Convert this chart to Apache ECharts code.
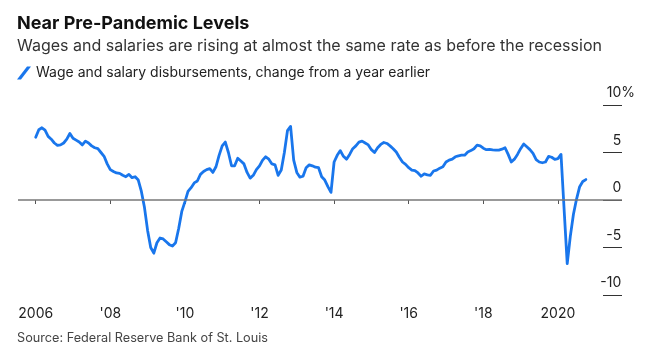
<!DOCTYPE html>
<html>
<head>
<meta charset="utf-8">
<script src="https://cdn.jsdelivr.net/npm/echarts@6/dist/echarts.min.js"></script>
<style>
html,body{margin:0;padding:0;background:#fff;}
#chart{width:657px;height:360px;}
</style>
</head>
<body>
<div id="chart"></div>
<script>
// ---- data ----
const startYear = 2006; // first observation: January 2006, monthly
const wageGrowth = [
  6.6, 7.4, 7.6, 7.35, 6.7, 6.4, 6.0, 5.75, 5.8, 6.0, 6.4, 7.0,
  6.5, 6.3, 6.1, 5.8, 6.2, 6.0, 5.7, 5.5, 5.4, 5.0, 4.6, 3.8,
  3.2, 3.0, 2.85, 2.8, 2.6, 2.45, 2.7, 2.35, 2.45, 2.1, 0.9, -0.8,
  -3.2, -5.0, -5.6, -4.5, -4.0, -4.1, -4.4, -4.7, -4.85, -4.5, -3.0, -1.2,
  -0.2, 0.9, 1.3, 1.8, 2.0, 2.7, 3.0, 3.2, 3.3, 2.9, 3.5, 4.7,
  5.7, 6.1, 5.0, 3.6, 3.6, 4.4, 4.1, 3.8, 2.9, 2.3, 2.6, 3.2,
  3.6, 4.2, 4.55, 4.3, 3.8, 3.7, 2.6, 3.15, 5.0, 7.3, 7.75, 4.2,
  2.9, 2.4, 2.5, 3.4, 3.7, 3.6, 3.45, 3.4, 2.45, 2.1, 1.4, 0.8,
  4.0, 4.7, 5.2, 4.6, 4.3, 4.8, 5.4, 5.7, 6.1, 6.2, 6.0, 5.8,
  5.3, 5.0, 5.5, 5.85, 6.05, 5.95, 5.7, 5.4, 5.05, 4.5, 4.0, 3.75,
  3.4, 3.15, 3.1, 2.85, 2.5, 2.75, 2.65, 2.6, 3.05, 3.15, 3.35, 3.5,
  4.0, 4.2, 4.3, 4.55, 4.65, 4.72, 4.72, 5.05, 5.2, 5.4, 5.77, 5.7,
  5.45, 5.3, 5.32, 5.27, 5.25, 5.25, 5.35, 5.5, 4.8, 4.0, 4.3, 4.8,
  5.4, 5.9, 5.6, 5.3, 4.9, 4.25, 4.0, 3.92, 4.0, 4.6, 4.5, 4.27,
  4.35, 4.8, -1.0, -6.7, -3.8, -1.5, 0.1, 1.4, 1.95, 2.15
];
const tickYears = [2006, 2008, 2010, 2012, 2014, 2016, 2018, 2020];
const tickLabels = ['2006', "'08", "'10", "'12", "'14", "'16", "'18", '2020'];
const yTicks = [-10, -5, 0, 5, 10];

const titleText = 'Near Pre-Pandemic Levels';
const subtitleText = 'Wages and salaries are rising at almost the same rate as before the recession';
const seriesName = 'Wage and salary disbursements, change from a year earlier';
const sourceText = 'Source: Federal Reserve Bank of St. Louis';

// ---- chart ----
const FONT = 'Inter';
const BLUE = '#1976ec';
const seriesData = wageGrowth.map((v, i) => [startYear + i / 12, v]);
const labelMap = {};
tickYears.forEach((y, i) => { labelMap[y] = tickLabels[i]; });

const chart = echarts.init(document.getElementById('chart'), null, {renderer: 'canvas'});
chart.setOption({
  backgroundColor: '#fff',
  animation: false,
  textStyle: {fontFamily: FONT},
  title: [
    {text: titleText, left: 17, top: 15, padding: 0,
     textStyle: {fontFamily: FONT, fontSize: 18, fontWeight: 'bold', color: '#111'}},
    {text: subtitleText, left: 17, top: 38, padding: 0,
     textStyle: {fontFamily: FONT, fontSize: 16, fontWeight: 'normal', color: '#333'}},
    {text: sourceText, left: 17, top: 332, padding: 0,
     textStyle: {fontFamily: FONT, fontSize: 12.7, fontWeight: 'normal', color: '#444'}}
  ],
  legend: {
    left: 17, top: 66, padding: 0,
    itemWidth: 14, itemHeight: 13,
    data: [{name: seriesName, icon: 'path://M0,13 L4,13 L14,0 L10,0 Z'}],
    textStyle: {fontFamily: FONT, fontSize: 14, color: '#222'},
    selectedMode: false
  },
  grid: {left: 18, right: 35, top: 105, height: 190, containLabel: false},
  xAxis: {
    type: 'value',
    min: 2005.5255, max: 2021.7185,
    offset: 2,
    axisLine: {show: false},
    splitLine: {show: false},
    axisTick: {show: true, length: 4, customValues: tickYears, lineStyle: {color: '#555', width: 1}},
    axisLabel: {
      customValues: tickYears, margin: 10,
      fontFamily: FONT, fontSize: 14, color: '#222',
      formatter: v => labelMap[Math.round(v)] || ''
    }
  },
  yAxis: {
    type: 'value', position: 'right',
    min: -10, max: 10, interval: 5,
    axisLine: {show: false},
    splitLine: {show: false},
    axisTick: {show: true, inside: true, length: 19, lineStyle: {color: '#333', width: 1}},
    axisLabel: {
      align: 'right', margin: 13, verticalAlign: 'bottom', padding: [0, 0, 5, 0],
      fontFamily: FONT, fontSize: 14, color: '#222',
      formatter: v => v === 10 ? '10%' : v + '{h|%}',
      rich: {h: {color: 'rgba(0,0,0,0)', fontFamily: FONT, fontSize: 14}}
    }
  },
  series: [
    {
      name: 'zero', type: 'line', data: [], z: 1, silent: true,
      markLine: {
        silent: true, symbol: ['none', 'none'], label: {show: false},
        lineStyle: {color: '#777', width: 1.5, type: 'solid'},
        data: [{yAxis: 0}]
      }
    },
    {
      name: seriesName, type: 'line', data: seriesData, z: 3,
      showSymbol: false, symbol: 'none',
      lineStyle: {color: BLUE, width: 2.8, join: 'round', cap: 'round'},
      itemStyle: {color: BLUE}
    }
  ]
});
</script>
</body>
</html>
